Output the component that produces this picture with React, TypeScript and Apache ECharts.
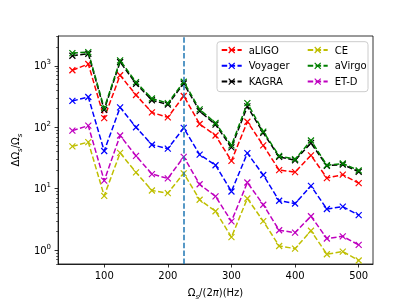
import React, { useEffect, useRef } from 'react';
import * as echarts from 'echarts';

const xValues = [50, 75, 100, 125, 150, 175, 200, 225, 250, 275, 300, 325, 350, 375, 400, 425, 450, 475, 500];
const aLIGO = [844, 1069, 141, 701, 334, 174, 145, 322, 113, 73.3, 28.4, 123, 50.6, 20.1, 18.6, 34.9, 14.9, 16.9, 12.3];
const Voyager = [268, 310, 41.1, 210, 100, 51.9, 44.8, 97.4, 35.9, 24.1, 9.02, 37.9, 16.7, 6.37, 5.74, 11.1, 4.68, 5.1, 3.71];
const KAGRA = [1453, 1566, 192, 1151, 510, 275, 234, 515, 183, 110, 47, 218, 81, 32.9, 29, 55.3, 23.6, 24.8, 18.9];
const CE = [48.8, 57.4, 7.66, 38.2, 18.4, 9.35, 8.47, 17.8, 6.61, 4.3, 1.63, 6.93, 2.97, 1.17, 1.06, 2.07, 0.86, 0.95, 0.68];
const aVirgo = [1607, 1667, 204, 1222, 541, 293, 246, 549, 195, 117, 50.6, 246, 85, 34.2, 30.1, 60.9, 24.1, 25.7, 19.8];
const ETD = [88, 106, 13.5, 73.3, 34.2, 17.3, 14.7, 32.9, 11.8, 7.49, 2.95, 12.6, 5.49, 2.11, 1.93, 3.57, 1.55, 1.68, 1.22];

const xTicks = [100, 200, 300, 400, 500];
const yTicks = [1, 10, 100, 1000];
const yMinorTicks = [0.6, 0.7, 0.8, 0.9, 2, 3, 4, 5, 6, 7, 8, 9, 20, 30, 40, 50, 60, 70, 80, 90,
  200, 300, 400, 500, 600, 700, 800, 900, 2000, 3000];
const vlineX = 225;

const seriesDefs = [
  { name: 'aLIGO', data: aLIGO, color: '#ff0000' },
  { name: 'Voyager', data: Voyager, color: '#0000ff' },
  { name: 'KAGRA', data: KAGRA, color: '#000000' },
  { name: 'CE', data: CE, color: '#bfbf00' },
  { name: 'aVirgo', data: aVirgo, color: '#008000' },
  { name: 'ET-D', data: ETD, color: '#bf00bf' },
];

const FONT = 'DejaVu Sans';
const XMARK = 'path://M0,0L10,10M10,0L0,10';

export default function App() {
  const ref = useRef<HTMLDivElement>(null);
  useEffect(() => {
    const chart = echarts.init(ref.current!, undefined, { renderer: 'svg' });
    const series: any[] = seriesDefs.map((s, i) => ({
      name: s.name,
      type: 'line',
      data: xValues.map((x, j) => [x, s.data[j]]),
      symbol: XMARK,
      symbolSize: 6,
      showSymbol: true,
      itemStyle: { color: s.color, borderColor: s.color, borderWidth: 1.2 },
      lineStyle: { color: s.color, width: 1.5, type: [5.5, 2.4] },
      z: 2 + i * 0.01,
      markLine: i === 0 ? {
        silent: true,
        symbol: 'none',
        label: { show: false },
        lineStyle: { color: '#1f77b4', width: 1.5, type: [5.5, 2.4] },
        data: [{ xAxis: vlineX }],
      } : undefined,
    }));
    const richBase = { fontSize: 10, fontFamily: FONT, color: '#000', lineHeight: 15 };
    const legendCommon = {
      orient: 'vertical',
      top: 44,
      padding: 0,
      itemWidth: 20,
      itemHeight: 7.5,
      itemGap: 3.8,
      selectedMode: false,
      itemStyle: { borderWidth: 1.2 },
      textStyle: { fontSize: 10, fontFamily: FONT, color: '#000', lineHeight: 12, padding: [0, 0, 0, 2] },
    };
    chart.setOption({
      animation: false,
      grid: { left: 52, right: 42, top: 36, bottom: 38.3, show: true, borderColor: '#000', borderWidth: 0.8, backgroundColor: 'transparent' },
      xAxis: {
        type: 'value',
        min: 27.5,
        max: 522.5,
        splitLine: { show: false },
        axisLine: { show: true, lineStyle: { color: '#000', width: 0.8 } },
        axisTick: { show: true, length: 3.5, lineStyle: { color: '#000', width: 0.8 }, customValues: xTicks },
        axisLabel: { customValues: xTicks, fontSize: 10, fontFamily: FONT, color: '#000', margin: 6 },
        name: '{a|Ω}{s|s}{a|/(2}{i|π}{a|)(Hz)}',
        nameLocation: 'middle',
        nameGap: 21,
        nameTextStyle: {
          ...richBase,
          rich: {
            a: { ...richBase },
            i: { ...richBase, fontStyle: 'italic' },
            s: { fontSize: 7, fontFamily: FONT, fontStyle: 'italic', color: '#000', verticalAlign: 'bottom' },
          },
        },
      },
      yAxis: [
        {
          type: 'log',
          min: 0.596,
          max: 3048,
          splitLine: { show: false },
          axisLine: { show: true, lineStyle: { color: '#000', width: 0.8 } },
          axisTick: { show: true, length: 3.5, lineStyle: { color: '#000', width: 0.8 }, customValues: yTicks },
          axisLabel: {
            customValues: yTicks,
            margin: 7,
            formatter: (v: number) => '{b|10}{e|' + Math.round(Math.log10(v)) + '}',
            rich: {
              b: { fontSize: 10, fontFamily: FONT, color: '#000', lineHeight: 14 },
              e: { fontSize: 7, fontFamily: FONT, color: '#000', verticalAlign: 'top' },
            },
          },
          name: '{a|ΔΩ}{s|s}{a|/Ω}{s|s}',
          nameLocation: 'middle',
          nameGap: 28,
          nameTextStyle: {
            ...richBase,
            rich: {
              a: { ...richBase },
              s: { fontSize: 7, fontFamily: FONT, fontStyle: 'italic', color: '#000', verticalAlign: 'bottom' },
            },
          },
        },
        {
          type: 'log',
          min: 0.596,
          max: 3048,
          position: 'left',
          splitLine: { show: false },
          axisLine: { show: false },
          axisTick: { show: true, length: 2, lineStyle: { color: '#000', width: 0.6 }, customValues: yMinorTicks },
          axisLabel: { show: false },
        },
      ],
      legend: [
        { ...legendCommon, data: ['aLIGO', 'Voyager', 'KAGRA'], left: 220.7 },
        { ...legendCommon, data: ['CE', 'aVirgo', 'ET-D'], left: 306.7 },
      ],
      graphic: [
        {
          type: 'rect',
          z: 3,
          silent: true,
          shape: { x: 217, y: 41.7, width: 151, height: 50, r: 3 },
          style: { fill: 'rgba(255,255,255,0.8)', stroke: '#cccccc', lineWidth: 1 },
        },
      ],
      series,
    });
    return () => chart.dispose();
  }, []);
  return <div ref={ref} style={{ position: 'fixed', left: 0, top: 0, width: 415, height: 305 }} />;
}
